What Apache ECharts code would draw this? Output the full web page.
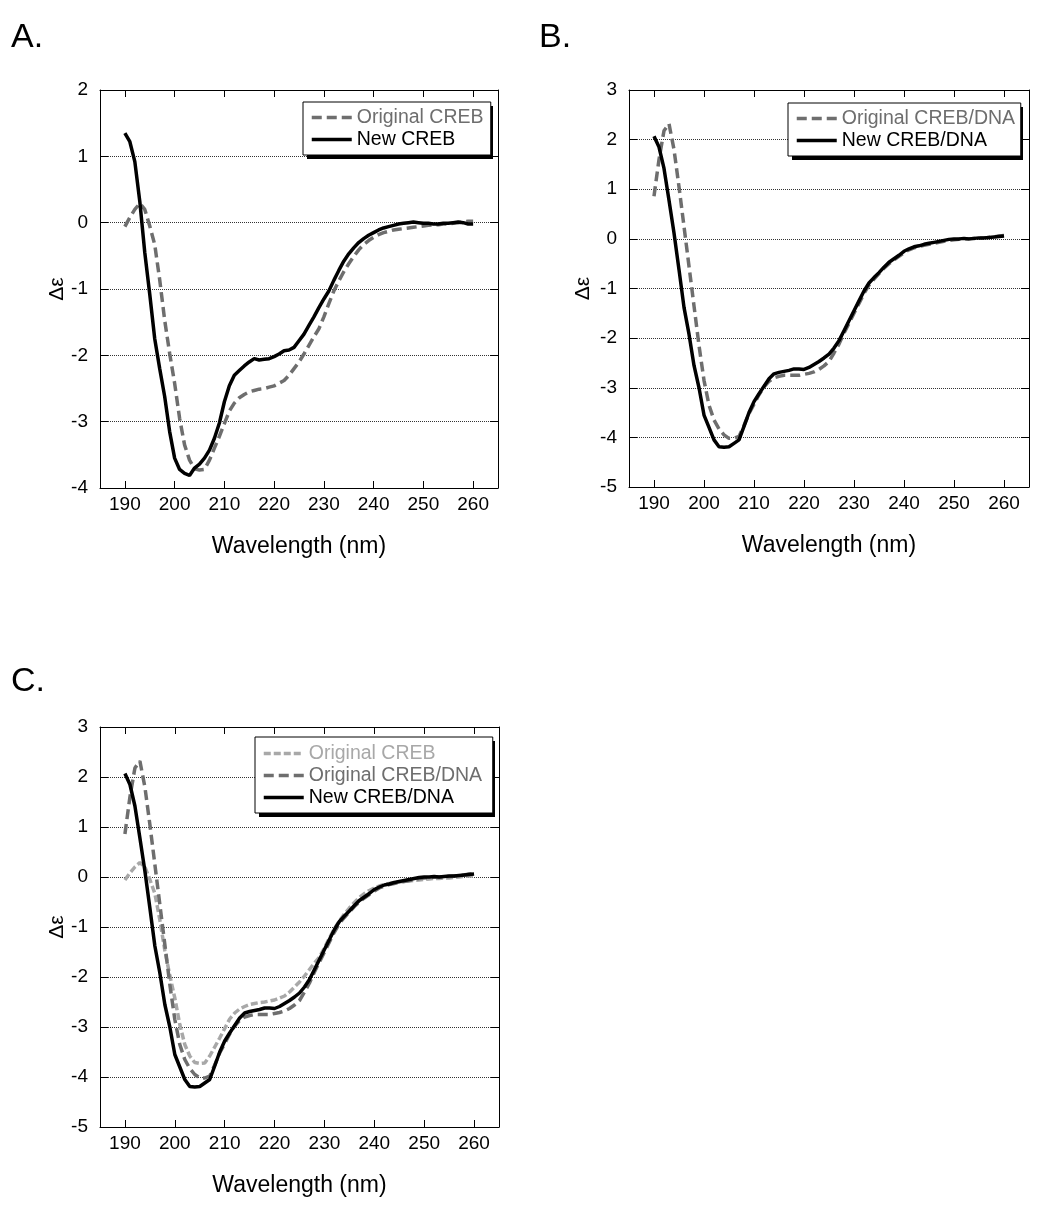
<!DOCTYPE html>
<html>
<head>
<meta charset="utf-8">
<script src="https://cdn.jsdelivr.net/npm/echarts@6/dist/echarts.min.js"></script>
<style>
html,body{margin:0;padding:0;background:#fff;}
#chart{width:1050px;height:1205px;}
</style>
</head>
<body>
<div id="chart"></div>
<script>
// ---------- DATA ----------
const wavelengths = [190,191,192,193,194,195,196,197,198,199,200,201,202,203,204,205,206,207,208,209,210,211,212,213,214,215,216,217,218,219,220,221,222,223,224,225,226,227,228,229,230,231,232,233,234,235,236,237,238,239,240,241,242,243,244,245,246,247,248,249,250,251,252,253,254,255,256,257,258,259,260];
const xTickValues = [190,200,210,220,230,240,250,260];

// Panel A
const originalCREB = [-0.06,0.08,0.20,0.29,0.20,-0.05,-0.33,-0.86,-1.47,-1.97,-2.42,-2.95,-3.35,-3.58,-3.71,-3.73,-3.72,-3.58,-3.40,-3.22,-3.03,-2.84,-2.72,-2.64,-2.59,-2.55,-2.53,-2.51,-2.50,-2.48,-2.46,-2.42,-2.38,-2.30,-2.20,-2.10,-1.98,-1.85,-1.72,-1.60,-1.42,-1.22,-1.03,-0.88,-0.74,-0.62,-0.51,-0.41,-0.33,-0.27,-0.22,-0.18,-0.15,-0.13,-0.11,-0.10,-0.09,-0.08,-0.07,-0.06,-0.05,-0.04,-0.03,-0.03,-0.02,-0.02,-0.01,0.00,0.01,0.02,0.02];
const newCREB = [1.35,1.22,0.92,0.32,-0.45,-1.08,-1.75,-2.20,-2.62,-3.15,-3.55,-3.72,-3.78,-3.81,-3.70,-3.64,-3.55,-3.43,-3.25,-3.02,-2.70,-2.46,-2.30,-2.23,-2.16,-2.10,-2.05,-2.07,-2.06,-2.05,-2.02,-1.98,-1.93,-1.92,-1.88,-1.78,-1.68,-1.55,-1.42,-1.28,-1.15,-1.03,-0.87,-0.72,-0.58,-0.47,-0.38,-0.30,-0.24,-0.19,-0.15,-0.11,-0.08,-0.06,-0.04,-0.02,-0.01,0.00,0.01,0.00,-0.01,-0.01,-0.02,-0.02,-0.01,-0.01,0.00,0.01,0.00,-0.02,-0.02];

// Panel B (also used in C)
const originalCREBDNA = [0.86,1.60,2.18,2.32,1.80,1.05,0.25,-0.55,-1.35,-2.15,-2.85,-3.35,-3.65,-3.83,-3.95,-4.02,-4.02,-3.98,-3.76,-3.52,-3.33,-3.14,-2.98,-2.87,-2.80,-2.77,-2.75,-2.75,-2.75,-2.75,-2.73,-2.71,-2.68,-2.63,-2.56,-2.47,-2.30,-2.12,-1.90,-1.70,-1.50,-1.30,-1.10,-0.93,-0.81,-0.70,-0.59,-0.50,-0.42,-0.35,-0.28,-0.22,-0.18,-0.15,-0.13,-0.11,-0.09,-0.07,-0.05,-0.03,-0.02,-0.01,0.00,0.00,0.01,0.01,0.02,0.03,0.04,0.06,0.07];
const newCREBDNA = [2.07,1.85,1.42,0.78,0.12,-0.62,-1.38,-1.92,-2.55,-3.00,-3.55,-3.80,-4.05,-4.19,-4.20,-4.19,-4.12,-4.05,-3.78,-3.50,-3.28,-3.12,-2.97,-2.82,-2.72,-2.69,-2.67,-2.65,-2.62,-2.62,-2.63,-2.59,-2.53,-2.47,-2.40,-2.32,-2.20,-2.05,-1.85,-1.65,-1.45,-1.25,-1.05,-0.89,-0.78,-0.68,-0.57,-0.47,-0.40,-0.33,-0.25,-0.20,-0.16,-0.14,-0.11,-0.09,-0.07,-0.05,-0.03,-0.01,0.00,0.00,0.01,0.00,0.01,0.02,0.02,0.03,0.04,0.05,0.06];

const panelLabels = ['A.', 'B.', 'C.'];
const xAxisTitle = 'Wavelength (nm)';
const yAxisTitle = 'Δε';

// ---------- CHART ----------
const FONT = "'Liberation Sans', Arial, sans-serif";
const DARK = '#6e6e6e';
const LIGHT = '#a8a8a8';
const pairs = vals => wavelengths.map((w, i) => [w, vals[i]]);

const grids = [
  {left: 100, top: 90, width: 398, height: 398},
  {left: 629, top: 90, width: 400, height: 397},
  {left: 100, top: 727, width: 399, height: 400}
];
const yRanges = [[-4, 2], [-5, 3], [-5, 3]];

const xAxes = [], yAxes = [];
grids.forEach((g, p) => {
  const common = {
    gridIndex: p, type: 'value', min: 185, max: 265,
    axisLine: {show: true, onZero: false, lineStyle: {color: '#000', width: 1}},
    axisTick: {show: true, inside: true, length: 7, customValues: xTickValues, lineStyle: {color: '#000', width: 1}},
    splitLine: {show: false}
  };
  xAxes.push(Object.assign({}, common, {
    position: 'bottom',
    axisLabel: {show: true, customValues: xTickValues, fontSize: 19, color: '#000', margin: 7, fontFamily: FONT},
    name: xAxisTitle, nameLocation: 'middle', nameGap: 47,
    nameTextStyle: {fontSize: 23, color: '#000', fontFamily: FONT}
  }));
  xAxes.push(Object.assign({}, common, {position: 'top', axisLabel: {show: false}}));
  const ycommon = {
    gridIndex: p, type: 'value', min: yRanges[p][0], max: yRanges[p][1], interval: 1,
    axisLine: {show: true, onZero: false, lineStyle: {color: '#000', width: 1}},
    axisTick: {show: true, inside: true, length: 8, lineStyle: {color: '#000', width: 1}}
  };
  yAxes.push(Object.assign({}, ycommon, {
    position: 'left',
    axisLabel: {show: true, fontSize: 19, color: '#000', margin: 12, fontFamily: FONT},
    splitLine: {show: true, lineStyle: {color: '#333', width: 1, type: [1, 1]}},
    name: yAxisTitle, nameLocation: 'middle', nameGap: [27, 35, 32][p], nameRotate: 90,
    nameTextStyle: {fontSize: 21, color: '#000', fontFamily: FONT}
  }));
  yAxes.push(Object.assign({}, ycommon, {position: 'right', axisLabel: {show: false}, splitLine: {show: false}}));
});

function line(name, p, vals, color, width, dash, z) {
  return {
    type: 'line', name: name, xAxisIndex: 2 * p, yAxisIndex: 2 * p,
    data: pairs(vals), showSymbol: false, symbol: 'none',
    lineStyle: {color: color, width: width, type: dash},
    itemStyle: {color: color}, z: z, animation: false
  };
}

const series = [
  line('Original CREB', 0, originalCREB, DARK, 3.5, [10, 5], 2),
  line('New CREB', 0, newCREB, '#000', 3.5, 'solid', 3),
  line('Original CREB/DNA', 1, originalCREBDNA, DARK, 3.5, [10, 5], 2),
  line('New CREB/DNA', 1, newCREBDNA, '#000', 3.5, 'solid', 3),
  line('C:Original CREB', 2, originalCREB, LIGHT, 3.5, [7, 3], 2),
  line('C:Original CREB/DNA', 2, originalCREBDNA, DARK, 3.5, [10, 5], 3),
  line('C:New CREB/DNA', 2, newCREBDNA, '#000', 3.5, 'solid', 4)
];

// legend boxes
const legendBoxes = [
  {left: 303, top: 102, w: 186, h: 53, textW: 130, padding: [5, 4, 5, 7],
   items: [['Original CREB', DARK], ['New CREB', '#000']]},
  {left: 788, top: 103, w: 231, h: 53, textW: 175, padding: [5, 4, 5, 7],
   items: [['Original CREB/DNA', DARK], ['New CREB/DNA', '#000']]},
  {left: 255, top: 737, w: 236, h: 76, textW: 175, padding: [6, 9, 5, 7],
   items: [['C:Original CREB', LIGHT], ['C:Original CREB/DNA', DARK], ['C:New CREB/DNA', '#000']]}
];

const legends = legendBoxes.map(b => ({
  left: b.left, top: b.top, orient: 'vertical', selectedMode: false,
  itemWidth: 40, itemHeight: 14, itemGap: 1,
  padding: b.padding, z: 10,
  backgroundColor: '#fff', borderColor: '#000', borderWidth: 1,
  itemStyle: {opacity: 0},
  lineStyle: {width: 3.5},
  textStyle: {fontSize: 19.5, lineHeight: 21, width: b.textW, overflow: 'none', fontFamily: FONT},
  formatter: n => n.replace(/^C:/, ''),
  data: b.items.map(it => ({name: it[0], textStyle: {color: it[1]}}))
}));

// hard drop-shadow behind each legend box
const shadows = legendBoxes.map(b => ({
  type: 'rect', left: b.left + 4, top: b.top + 4, z: 5,
  shape: {width: b.w, height: b.h},
  style: {fill: '#000'}
}));

const option = {
  backgroundColor: '#fff',
  animation: false,
  textStyle: {fontFamily: FONT},
  title: panelLabels.map((t, i) => ({
    text: t, left: [11, 539, 11][i], top: [21, 21, 665][i], padding: 0,
    textStyle: {fontSize: 34, fontWeight: 'normal', color: '#000', fontFamily: FONT}
  })),
  grid: grids,
  xAxis: xAxes,
  yAxis: yAxes,
  legend: legends,
  graphic: shadows,
  series: series
};

const chart = echarts.init(document.getElementById('chart'), null, {renderer: 'canvas'});
chart.setOption(option);
</script>
</body>
</html>
